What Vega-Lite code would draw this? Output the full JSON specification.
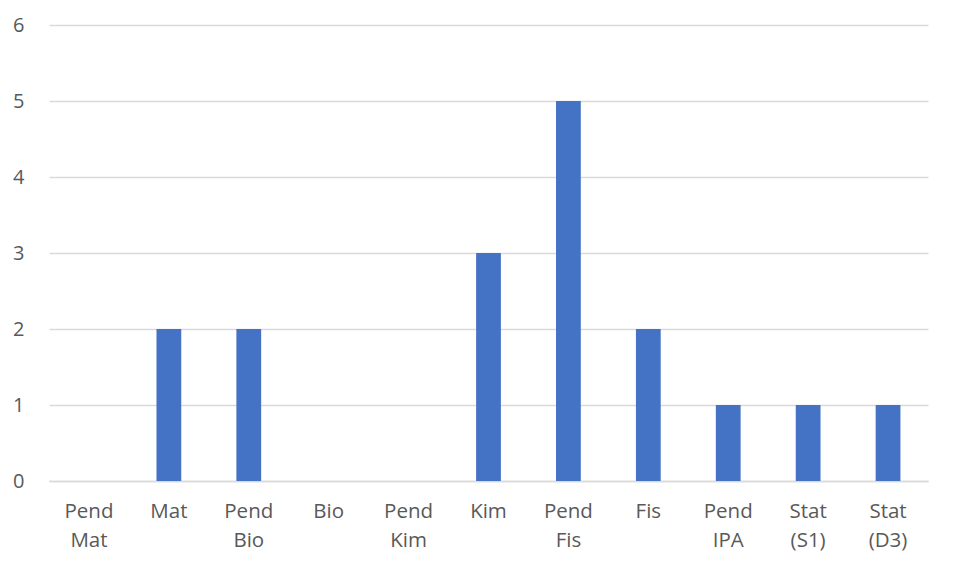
{
  "$schema": "https://vega.github.io/schema/vega-lite/v6.json",
  "width": 879,
  "height": 456,
  "autosize": {"type": "none"},
  "padding": {"left": 49, "top": 25, "right": 33, "bottom": 99},
  "background": "white",
  "data": {
    "values": [
      {"cat": "Pend Mat", "value": 0},
      {"cat": "Mat", "value": 2},
      {"cat": "Pend Bio", "value": 2},
      {"cat": "Bio", "value": 0},
      {"cat": "Pend Kim", "value": 0},
      {"cat": "Kim", "value": 3},
      {"cat": "Pend Fis", "value": 5},
      {"cat": "Fis", "value": 2},
      {"cat": "Pend IPA", "value": 1},
      {"cat": "Stat (S1)", "value": 1},
      {"cat": "Stat (D3)", "value": 1}
    ]
  },
  "mark": {"type": "bar", "color": "#4472C4"},
  "encoding": {
    "x": {
      "field": "cat",
      "type": "nominal",
      "sort": null,
      "scale": {"paddingInner": 0.69, "paddingOuter": 0.345},
      "axis": {
        "title": null,
        "labelAngle": 0,
        "labelExpr": "split(datum.label, ' ')",
        "labelFont": "Open Sans",
        "labelFontSize": 20.5,
        "labelColor": "#595959",
        "labelLineHeight": 29,
        "labelPadding": 20,
        "labelBaseline": "top",
        "ticks": false,
        "domainColor": "#d9d9d9",
        "domainWidth": 1.5,
        "grid": false
      }
    },
    "y": {
      "field": "value",
      "type": "quantitative",
      "scale": {"domain": [0, 6]},
      "axis": {
        "title": null,
        "values": [0, 1, 2, 3, 4, 5, 6],
        "labelOverlap": false,
        "labelFont": "Open Sans",
        "labelFontSize": 20,
        "labelColor": "#595959",
        "labelPadding": 25,
        "ticks": false,
        "domain": false,
        "gridColor": "#d9d9d9",
        "gridWidth": 1.5
      }
    }
  },
  "config": {"view": {"stroke": null}}
}
